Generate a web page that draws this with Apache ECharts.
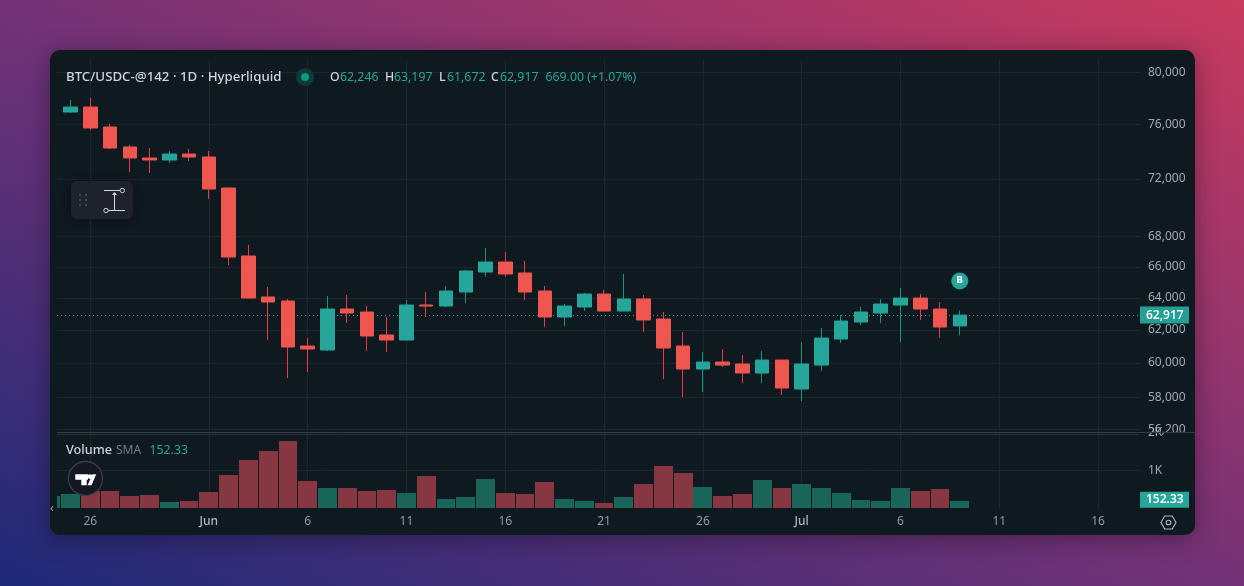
<!DOCTYPE html>
<html>
<head>
<meta charset="utf-8">
<style>
html,body{margin:0;padding:0;width:1244px;height:586px;overflow:hidden;
  background:linear-gradient(to top right,#1e2a78 0%,#743276 50%,#c93a5e 100%);}
#panel{position:absolute;left:50px;top:50px;width:1145px;height:485px;background:#0f1a20;border-radius:10px;box-shadow:0 4px 24px rgba(0,0,0,.35);}
#chart{position:absolute;left:0;top:0;width:1244px;height:586px;}
</style>
<script src="https://cdn.jsdelivr.net/npm/echarts@6/dist/echarts.min.js"></script>
</head>
<body>
<div id="panel"></div>
<div id="chart"></div>
<script>
const dates = ['2024-05-25','2024-05-26','2024-05-27','2024-05-28','2024-05-29','2024-05-30','2024-05-31',
 '2024-06-01','2024-06-02','2024-06-03','2024-06-04','2024-06-05','2024-06-06','2024-06-07','2024-06-08','2024-06-09','2024-06-10',
 '2024-06-11','2024-06-12','2024-06-13','2024-06-14','2024-06-15','2024-06-16','2024-06-17','2024-06-18','2024-06-19','2024-06-20',
 '2024-06-21','2024-06-22','2024-06-23','2024-06-24','2024-06-25','2024-06-26','2024-06-27','2024-06-28','2024-06-29','2024-06-30',
 '2024-07-01','2024-07-02','2024-07-03','2024-07-04','2024-07-05','2024-07-06','2024-07-07','2024-07-08','2024-07-09'];
const opens = [76930,77310,75796,74311,73506,73360,73796,
 73579,71355,66711,64055,63801,61021,60779,63298,63110,61689,
 61384,63549,63486,64372,65660,66313,65595,64436,62799,63424,
 64244,63173,63928,62674,61021,59646,60061,59943,59411,60180,
 58477,59883,61445,62488,63048,63549,63991,63298,62246];
const closes = [77310,75722,74236,73506,73360,73796,73579,
 71284,66643,63991,63738,60960,60840,63298,63048,61628,61384,
 63549,63486,64436,65725,66313,65530,64372,62799,63486,64244,
 63173,63928,62612,60900,59646,60061,59883,59411,60180,58535,
 59943,61506,62550,63110,63612,63991,63298,62180,62917];
const lows = [76855,75572,74163,72494,72422,73142,73288,
 70582,66117,63991,61384,59117,59470,60719,62427,60719,60659,
 61384,62799,63424,63675,65336,65336,63864,62180,62242,63173,
 63173,63173,61872,59059,58012,58304,59765,58824,58824,58131,
 57785,59528,61201,62303,62427,61262,62612,61506,61672];
const highs = [77850,78005,76020,74459,74236,74017,74163,
 74017,71355,67439,64692,63928,61506,64118,64182,63486,62799,
 63864,64372,64757,65790,67239,66973,66379,64757,63612,64308,
 64500,65530,64182,63110,61872,60659,60840,60479,60719,60180,
 61262,62118,62924,63424,63928,64628,64244,63738,63197];

const volumeDates = ['2024-05-24'].concat(dates);
const volumeValues = [318,371,451,451,318,345,159,186,
 424,875,1273,1512,1777,716,530,530,451,477,
 398,849,239,292,769,398,371,690,239,186,
 133,292,636,1114,928,557,318,371,743,530,
 636,530,398,212,186,530,451,504,186];
const volumeDirections = ['u','u','d','d','d','d','u','d',
 'd','d','d','d','d','d','u','d','d','d',
 'u','d','u','u','u','d','d','d','u','u',
 'd','u','d','d','d','u','d','d','u','d',
 'u','u','u','u','u','u','d','d','u'];

const priceTicks = [56200,58000,60000,62000,64000,66000,68000,72000,76000,80000];
const volumeTicks = [1000,2000];
const volumeTickLabels = ['1K','2K'];
const timeTicks = ['2024-05-26','2024-06-01','2024-06-06','2024-06-11','2024-06-16','2024-06-21','2024-06-26','2024-07-01','2024-07-06','2024-07-11','2024-07-16'];
const timeTickLabels = ['26','Jun','6','11','16','21','26','Jul','6','11','16'];
const smaValue = 152.33;
const changeText = '669.00 (+1.07%)';
const signalPrice = 65075;

const GREEN='#26a69a',RED='#f05650',WICK_G='#089981',WICK_R='#f23645';
const VOL_G='#19655a',VOL_R='#873741';
const GRID='#1c272d', TEXT='#d1d4dc', AXIS='#a3a6af';
const FONT='"Noto Sans",sans-serif';
const fmt=v=>Math.round(v).toLocaleString('en-US');
const T=s=>Date.parse(s);
const timeTickValues = timeTicks.map(T);

const wickData = dates.map((d,i)=>[T(d),opens[i],closes[i],lows[i],highs[i]]);
const bodyData = dates.map((d,i)=>[T(d),opens[i],closes[i],Math.min(opens[i],closes[i]),Math.max(opens[i],closes[i])]);
const volData = volumeDates.map((d,i)=>[T(d),volumeValues[i],volumeDirections[i]==='u'?1:0]);
const last=dates.length-1;

const xCommon = {
  type:'value', min:T('2024-05-24T07:34:00Z'), max:T('2024-07-18T02:53:00Z'),
  axisLine:{show:false}, axisPointer:{show:false},
  splitLine:{show:true,lineStyle:{color:GRID,width:1}},
  axisTick:{show:false,customValues:timeTickValues}
};
const txt=(x,y,t,fill,extra)=>({type:'text',x,y,silent:true,style:Object.assign({text:t,fill,fontSize:12.3,fontFamily:FONT,textVerticalAlign:'middle'},extra||{})});
const c=(cx,cy,r,style)=>({type:'circle',shape:{cx,cy,r},silent:true,style});
const ln=(x1,y1,x2,y2,stroke,w)=>({type:'line',shape:{x1,y1,x2,y2},silent:true,style:{stroke,lineWidth:w||1}});
const dot=(x,y)=>({type:'rect',shape:{x,y,width:2,height:2},silent:true,style:{fill:'#434651'}});
const HEAD={fontSize:13.25,fontWeight:500};
const LET={fontWeight:500};

function renderVolume(params,api){
  const cs=params.coordSys;
  const top=api.coord([api.value(0),api.value(1)]);
  const base=api.coord([api.value(0),0]);
  const left=Math.round(top[0]-9.4), right=Math.round(top[0]+9.4);
  const yTop=Math.round(top[1]);
  const rect=echarts.graphic.clipRectByRect(
    {x:left,y:yTop,width:right-left,height:base[1]-yTop},
    {x:cs.x,y:cs.y,width:cs.width,height:cs.height});
  return rect&&{type:'rect',shape:rect,style:{fill:api.value(2)?VOL_G:VOL_R}};
}

const overlay=[
    ln(57,432.5,1195,432.5,'#343c42'),
    ln(57,434.5,1139,434.5,'#2a3339'),
    txt(66,77.5,'BTC/USDC-@142 · 1D · Hyperliquid',TEXT,HEAD),
    c(305,77,9,{fill:'#0f3a39'}),
    c(305,77,4,{fill:'#089981'}),
    txt(330,77.5,'O',TEXT,LET), txt(340,77.5,fmt(opens[last]),GREEN),
    txt(385,77.5,'H',TEXT,LET), txt(394,77.5,fmt(highs[last]),GREEN),
    txt(439,77.5,'L',TEXT,LET), txt(447,77.5,fmt(lows[last]),GREEN),
    txt(491,77.5,'C',TEXT,LET), txt(500,77.5,fmt(closes[last]),GREEN),
    txt(545.5,77.5,changeText,GREEN),
    txt(66,450.5,'Volume',TEXT,{fontSize:12.7,fontWeight:500}),
    txt(116,450.5,'SMA','#787b86',{fontSize:12}),
    txt(149.5,450.5,smaValue.toFixed(2),GREEN),
    txt(50,508,'‹','#9598a1'),
    {type:'rect',shape:{x:71,y:181,width:62,height:38,r:6},silent:true,
      style:{fill:'#1e222d',shadowBlur:8,shadowColor:'rgba(0,0,0,.45)'}},
    dot(79,194),dot(85,194),dot(79,199),dot(85,199),dot(79,204),dot(85,204),
    ln(104,190.5,120,190.5,'#d1d4dc'),
    c(122.3,190.5,2.2,{fill:'#1e222d',stroke:'#d1d4dc',lineWidth:1}),
    ln(108,210.5,125,210.5,'#d1d4dc'),
    c(106,210.5,2.2,{fill:'#1e222d',stroke:'#d1d4dc',lineWidth:1}),
    ln(114.5,210,114.5,193,'#d1d4dc'),
    {type:'polygon',shape:{points:[[112,195],[114.5,192],[117,195]]},silent:true,style:{fill:'#d1d4dc'}},
    c(85.5,478.5,17,{fill:'#131722',stroke:'#3a3e49',lineWidth:1.3}),
    {type:'polygon',shape:{points:[[75.3,474.2],[88,474.2],[88,479.7],[86.7,479.7],[86.7,485.2],[81.3,485.2],[81.3,479.7],[75.3,479.7]]},silent:true,style:{fill:'#fff'}},
    c(90,476.6,2.4,{fill:'#fff'}),
    {type:'polygon',shape:{points:[[92.5,474.2],[96.2,474.2],[91.5,485.2],[87.5,485.2]]},silent:true,style:{fill:'#fff'}},
    {type:'polygon',shape:{points:[[1161,522.5],[1164.7,516],[1172.3,516],[1176,522.5],[1172.3,529],[1164.7,529]]},silent:true,
      style:{fill:'none',stroke:'#b2b5be',lineWidth:1.1}},
    c(1168.5,522.5,2.3,{fill:'none',stroke:'#b2b5be',lineWidth:1.1})
].map(e=>Object.assign(e,{z:100}));

const chart = echarts.init(document.getElementById('chart'),null,{renderer:'canvas'});
chart.setOption({
  animation:false,
  backgroundColor:'transparent',
  textStyle:{fontFamily:FONT},
  grid:[
    {left:57,right:104,top:60,height:371},
    {left:57,right:104,top:431.6,height:76.4}
  ],
  xAxis:[
    Object.assign({},xCommon,{gridIndex:0,axisLabel:{show:false,customValues:timeTickValues}}),
    Object.assign({},xCommon,{gridIndex:1,axisLabel:{show:true,customValues:timeTickValues,margin:8,hideOverlap:false,
      color:'#9598a1',fontSize:12,fontFamily:FONT,
      formatter:function(v){const s=timeTickLabels[timeTickValues.indexOf(v)];return /[A-Za-z]/.test(s)?'{m|'+s+'}':s;},
      rich:{m:{color:'#b2b5be',fontSize:12,fontFamily:FONT,fontWeight:500}}}})
  ],
  yAxis:[
    {type:'log',logBase:10,gridIndex:0,position:'right',min:56097,max:80996,
     axisLine:{show:false},
     axisTick:{show:false,customValues:priceTicks},
     splitLine:{show:true,lineStyle:{color:GRID}},
     minorSplitLine:{show:false},
     axisLabel:{show:true,customValues:priceTicks,color:AXIS,fontSize:12,fontFamily:FONT,margin:8,
       formatter:v=>fmt(v)}},
    {type:'value',gridIndex:1,position:'right',min:0,max:2016,
     axisLine:{show:false},
     axisTick:{show:false,customValues:volumeTicks},
     splitLine:{show:true,lineStyle:{color:GRID}},
     axisLabel:{show:true,customValues:volumeTicks,color:AXIS,fontSize:12,fontFamily:FONT,margin:8,
       formatter:function(v){return volumeTickLabels[volumeTicks.indexOf(v)];}}}
  ],
  series:[
    {name:'wicks',type:'candlestick',xAxisIndex:0,yAxisIndex:0,data:wickData,barWidth:1,z:2,
     itemStyle:{color:WICK_G,color0:WICK_R,borderColor:WICK_G,borderColor0:WICK_R,borderWidth:1}},
    {name:'bodies',type:'candlestick',xAxisIndex:0,yAxisIndex:0,data:bodyData,barWidth:14,z:3,
     itemStyle:{color:GREEN,color0:RED,borderColor:GREEN,borderColor0:RED,borderWidth:1},
     markLine:{silent:true,symbol:'none',z:1,animation:false,
       lineStyle:{color:GREEN,type:[1,3],width:1,opacity:.95},
       label:{position:'end',distance:0,formatter:p=>fmt(p.value),color:'#fff',backgroundColor:GREEN,
         width:37,height:12,lineHeight:12,padding:[2,6,3,6],align:'left',fontSize:12,fontFamily:FONT,fontWeight:600},
       data:[{yAxis:closes[last]}]},
     markPoint:{silent:true,symbol:'circle',symbolSize:17,itemStyle:{color:GREEN},animation:false,
       label:{color:'#fff',fontSize:9,fontWeight:'bold',fontFamily:'"DejaVu Sans",sans-serif',formatter:'B'},
       data:[{coord:[T(dates[last]),signalPrice]}]}},
    {name:'Volume',type:'custom',xAxisIndex:1,yAxisIndex:1,data:volData,renderItem:renderVolume,
     encode:{x:0,y:1},clip:false,z:2,
     markLine:{silent:true,symbol:'none',animation:false,
       lineStyle:{color:'rgba(0,0,0,0)'},
       label:{position:'end',distance:0,offset:[0,-2.5],formatter:()=>smaValue.toFixed(2),color:'#fff',backgroundColor:GREEN,
         width:37,height:12,lineHeight:12,padding:[2,6,2,6],align:'left',fontSize:12,fontFamily:FONT,fontWeight:600},
       data:[{yAxis:smaValue}]}}
  ],
  graphic:{z:100,elements:overlay}
});
</script>
</body>
</html>
